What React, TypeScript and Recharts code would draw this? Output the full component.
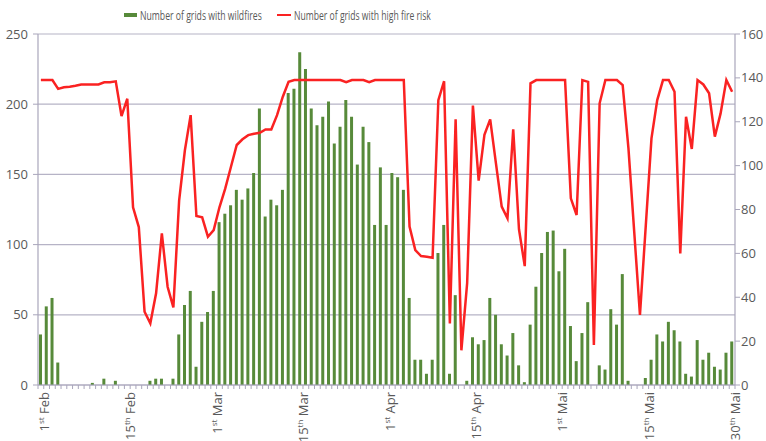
import React, { useLayoutEffect, useRef, useState } from "react";
import {
  ComposedChart,
  Bar,
  Line,
  XAxis,
  YAxis,
  CartesianGrid,
  Legend,
} from "recharts";

// one category per day, 1st Feb .. 31st May
const days = Array.from({ length: 121 }, (_, i) => i);

const wildfires = [
  36, 56, 62, 16, 0, 0, 0, 0, 0, 1.5, 0, 4.5, 0, 3, 0, 0, 0, 0, 0, 3,
  4.5, 4.5, 0, 4.5, 36, 57, 67, 13, 45, 52, 67, 116, 122, 128, 139, 132, 140, 151, 197, 120,
  132, 128, 139, 208, 211, 237, 225, 197, 185, 191, 202, 172, 184, 203, 191, 157, 184, 173, 114, 155,
  114, 151, 148, 139, 62, 18, 18, 8, 18, 94, 114, 8, 64, 0, 3, 34, 29, 32, 62, 50,
  29, 21, 37, 14, 2, 43, 70, 94, 109, 110, 81, 97, 42, 17, 37, 59, 0, 14, 11, 54,
  43, 79, 3, 0, 0, 5, 18, 36, 31, 45, 39, 31, 8, 6, 32, 18, 23, 13, 11, 23,
  31,
];

const fireRisk = [
  139, 139, 139, 135, 135.7, 136, 136.4, 137, 137, 137, 137, 138, 138, 138.4, 122.6, 130.5, 81, 72, 33.4, 28.1,
  41.8, 69.1, 44.8, 35.4, 84, 107, 123, 77, 76.4, 67.6, 70.6, 81, 89.5, 99.5, 109.4, 112, 113.9, 114.5, 115, 116.5,
  116.5, 123, 131.4, 138.2, 139, 139, 139, 139, 139, 139, 139, 139, 139, 138, 139, 139, 139, 138, 139, 139,
  139, 139, 139, 139, 72.2, 61.5, 58.8, 58.5, 58, 129.8, 138.5, 28, 121.1, 15.8, 46.4, 127.4, 93.2, 114, 121.1, 101,
  81.3, 76, 116.6, 71, 54.2, 137.5, 139, 139, 139, 139, 139, 139, 85.1, 77.5, 139, 138.2, 18.2, 128.4, 139, 139,
  139, 136.7, 108, 70, 31.9, 72.2, 112.4, 129.9, 139, 139, 133.7, 60, 122.3, 107.6, 139, 137, 133, 113.2, 123.8, 139,
  133.7,
];

const dateLabels = [
  "1st Feb",
  "15th Feb",
  "1st Mar",
  "15th Mar",
  "1st Apr",
  "15th Apr",
  "1st Mai",
  "15th Mai",
  "30th Mai",
];
const labelStep = 15;

const leftTicks = [0, 50, 100, 150, 200, 250];
const rightTicks = [0, 20, 40, 60, 80, 100, 120, 140, 160];

const data = days.map((d, i) => ({
  day: d,
  wildfires: wildfires[i],
  risk: fireRisk[i],
}));

const W = 766;
const H = 441;
const LEFT_W = 38;
const RIGHT_W = 31;
const TOP = 34;
const X_H = 56;
const PLOT_BOTTOM = H - X_H;
const BAND = (W - LEFT_W - RIGHT_W) / days.length;

const AXIS = "#a9a6bb";
const GRID = "#b6b3c6";
const TEXT = "#595959";
const GREEN = "#578a3a";
const RED = "#fa2222";

function splitLabel(s: string) {
  const m = s.match(/^(\d+)(st|nd|rd|th)(.*)$/);
  return m ? [m[1], m[2], m[3]] : [s, "", ""];
}

function DayTick(props: any) {
  const { x, payload } = props;
  const v = payload.value as number;
  const bx = x - BAND / 2;
  const isLabel = v % labelStep === 0 && dateLabels[v / labelStep];
  const tx = x + 8;
  const ty = PLOT_BOTTOM + 7;
  const parts = isLabel ? splitLabel(dateLabels[v / labelStep]) : null;
  return (
    <g>
      <line x1={bx} x2={bx} y1={PLOT_BOTTOM} y2={PLOT_BOTTOM + 4} stroke={AXIS} />
      {v === days.length - 1 && (
        <line
          x1={x + BAND / 2}
          x2={x + BAND / 2}
          y1={PLOT_BOTTOM}
          y2={PLOT_BOTTOM + 4}
          stroke={AXIS}
        />
      )}
      {parts && (
        <text
          x={tx}
          y={ty}
          transform={`rotate(-90 ${tx} ${ty})`}
          textAnchor="end"
          fill={TEXT}
          fontSize={13}
          fontFamily="'Liberation Sans Narrow', 'Open Sans', sans-serif"
        >
          <tspan>{parts[0]}</tspan>
          <tspan fontSize={8} dy={-5}>
            {parts[1]}
          </tspan>
          <tspan dy={5}>{parts[2]}</tspan>
        </text>
      )}
    </g>
  );
}

// squeeze a text horizontally to a given width (the original uses a condensed face)
function FitText({ x, y, len, children }: any) {
  const ref = useRef<SVGTextElement>(null);
  const [k, setK] = useState(1);
  useLayoutEffect(() => {
    const n = ref.current ? ref.current.getComputedTextLength() : 0;
    if (n > 0) setK(len / n);
  }, [len, children]);
  return (
    <text
      ref={ref}
      x={0}
      y={0}
      transform={`translate(${x} ${y}) scale(${k} 1)`}
      fontSize={13}
      fill={TEXT}
      fontFamily="'Open Sans', sans-serif"
    >
      {children}
    </text>
  );
}

// legend placement per series (icon x, text x, text length)
const legendPos: Record<string, { icon: number; text: number; len: number }> = {
  wildfires: { icon: 124, text: 140, len: 122 },
  risk: { icon: 277, text: 294, len: 137 },
};

function LegendBox(props: any) {
  const items = props.payload || [];
  return (
    <svg width={W} height={30}>
      {items.map((it: any, i: number) => {
        const p = legendPos[it.dataKey];
        if (!p) return null;
        return (
          <g key={i}>
            {it.dataKey === "risk" ? (
              <line x1={p.icon} x2={p.icon + 14} y1={15} y2={15} stroke={RED} strokeWidth={2} />
            ) : (
              <rect x={p.icon} y={13} width={13} height={4} fill={GREEN} />
            )}
            <FitText x={p.text} y={19.5} len={p.len}>
              {it.value}
            </FitText>
          </g>
        );
      })}
    </svg>
  );
}

export default function App() {
  return (
    <div
      style={{
        position: "absolute",
        left: 0,
        top: 0,
        width: W,
        height: H,
        background: "#fff",
        fontFamily: "'Open Sans', sans-serif",
      }}
    >
      <ComposedChart
        width={W}
        height={H}
        data={data}
        margin={{ top: TOP, right: 0, bottom: 0, left: 0 }}
        barCategoryGap={0}
      >
        <CartesianGrid
          yAxisId="left"
          vertical={false}
          stroke={GRID}
          strokeWidth={1.2}
        />
        <XAxis
          dataKey="day"
          interval={0}
          height={X_H}
          tick={<DayTick />}
          tickLine={false}
          axisLine={{ stroke: AXIS, strokeWidth: 1.2 }}
        />
        <YAxis
          yAxisId="left"
          width={LEFT_W}
          domain={[0, 250]}
          ticks={leftTicks}
          interval={0}
          tickSize={5}
          tickMargin={5}
          tick={{ fill: TEXT, fontSize: 13 }}
          stroke={AXIS}
          axisLine={{ stroke: AXIS, strokeWidth: 1.2 }}
          tickLine={{ stroke: AXIS }}
        />
        <YAxis
          yAxisId="right"
          orientation="right"
          width={RIGHT_W}
          domain={[0, 160]}
          ticks={rightTicks}
          interval={0}
          tickSize={5}
          tickMargin={1}
          tick={{ fill: TEXT, fontSize: 13 }}
          stroke={AXIS}
          axisLine={{ stroke: AXIS, strokeWidth: 1.2 }}
          tickLine={{ stroke: AXIS }}
        />
        <Legend
          verticalAlign="middle"
          align="center"
          layout="horizontal"
          wrapperStyle={{ top: 0, left: 0, width: W, height: 30 }}
          content={<LegendBox />}
        />
        <Bar
          yAxisId="left"
          dataKey="wildfires"
          name="Number of grids with wildfires"
          fill={GREEN}
          barSize={3}
          isAnimationActive={false}
        />
        <Line
          yAxisId="right"
          type="linear"
          dataKey="risk"
          name="Number of grids with high fire risk"
          stroke={RED}
          strokeWidth={2.5}
          dot={false}
          activeDot={false}
          isAnimationActive={false}
        />
      </ComposedChart>
    </div>
  );
}
